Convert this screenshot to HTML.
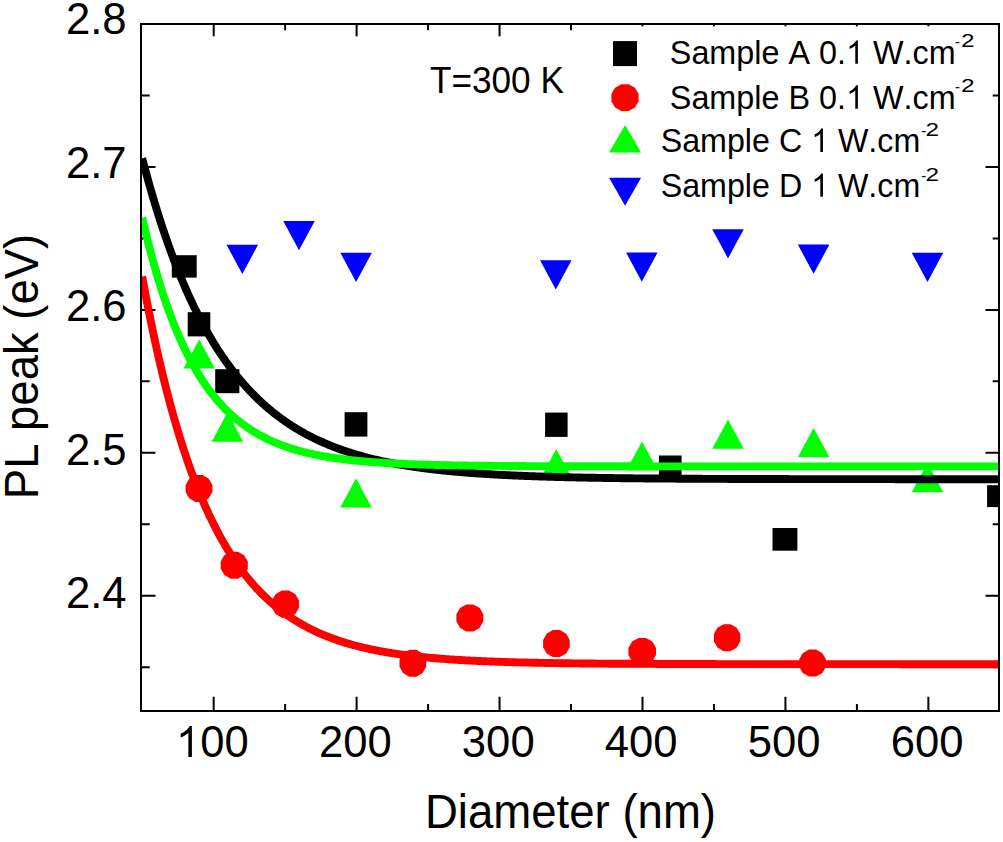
<!DOCTYPE html>
<html><head><meta charset="utf-8"><style>
html,body{margin:0;padding:0;background:#fff;}
body{width:1003px;height:842px;overflow:hidden;font-family:"Liberation Sans",sans-serif;}
svg{display:block;position:absolute;left:0;top:0;}
</style></head><body>
<svg width="1003" height="842" viewBox="0 0 1003 842"><defs><clipPath id="pc"><rect x="142" y="25" width="856" height="685"/></clipPath></defs><path d="M213.67 711V696.70M213.67 24V36.20M285.14 711V704.10M285.14 24V30.30M356.61 711V696.70M356.61 24V36.20M428.08 711V704.10M428.08 24V30.30M499.55 711V696.70M499.55 24V36.20M571.02 711V704.10M571.02 24V30.30M642.49 711V696.70M642.49 24V36.20M713.96 711V704.10M713.96 24V30.30M785.43 711V696.70M785.43 24V36.20M856.90 711V704.10M856.90 24V30.30M928.37 711V696.70M928.37 24V36.20M141 95.51H149.70M999 95.51H992.70M141 166.97H155.50M999 166.97H985.50M141 238.43H149.70M999 238.43H992.70M141 309.89H155.50M999 309.89H985.50M141 381.35H149.70M999 381.35H992.70M141 452.81H155.50M999 452.81H985.50M141 524.27H149.70M999 524.27H992.70M141 595.73H155.50M999 595.73H985.50M141 667.19H149.70M999 667.19H992.70" stroke="#000" stroke-width="2" fill="none"/><g clip-path="url(#pc)"><rect x="171.80" y="255.20" width="24.90" height="22.40" fill="#000"/><rect x="187.70" y="312.20" width="22.60" height="24.20" fill="#000"/><rect x="215.20" y="369.20" width="24.20" height="24.00" fill="#000"/><rect x="344.60" y="412.20" width="22.80" height="24.40" fill="#000"/><rect x="545.10" y="412.60" width="22.50" height="24.30" fill="#000"/><rect x="658.90" y="455.50" width="22.70" height="24.20" fill="#000"/><rect x="772.50" y="528.00" width="24.90" height="22.70" fill="#000"/><rect x="987.10" y="485.20" width="24.90" height="21.90" fill="#000"/><polygon points="212.40,492.09 208.81,498.31 202.59,501.90 195.41,501.90 189.19,498.31 185.60,492.09 185.60,484.91 189.19,478.69 195.41,475.10 202.59,475.10 208.81,478.69 212.40,484.91" fill="#f00"/><polygon points="247.80,568.82 244.17,575.08 237.88,578.70 230.62,578.70 224.33,575.08 220.70,568.82 220.70,561.58 224.33,555.32 230.62,551.70 237.88,551.70 244.17,555.32 247.80,561.58" fill="#f00"/><polygon points="299.00,607.78 295.37,614.07 289.08,617.70 281.82,617.70 275.53,614.07 271.90,607.78 271.90,600.52 275.53,594.23 281.82,590.60 289.08,590.60 295.37,594.23 299.00,600.52" fill="#f00"/><polygon points="426.20,666.85 422.62,673.10 416.43,676.70 409.27,676.70 403.08,673.10 399.50,666.85 399.50,659.65 403.08,653.40 409.27,649.80 416.43,649.80 422.62,653.40 426.20,659.65" fill="#f00"/><polygon points="483.30,621.52 479.70,627.78 473.45,631.40 466.25,631.40 460.00,627.78 456.40,621.52 456.40,614.28 460.00,608.02 466.25,604.40 473.45,604.40 479.70,608.02 483.30,614.28" fill="#f00"/><polygon points="569.70,647.15 566.14,653.40 559.96,657.00 552.84,657.00 546.66,653.40 543.10,647.15 543.10,639.95 546.66,633.70 552.84,630.10 559.96,630.10 566.14,633.70 569.70,639.95" fill="#f00"/><polygon points="656.00,655.12 652.30,661.38 645.90,665.00 638.50,665.00 632.10,661.38 628.40,655.12 628.40,647.88 632.10,641.62 638.50,638.00 645.90,638.00 652.30,641.62 656.00,647.88" fill="#f00"/><polygon points="740.30,641.32 736.76,647.58 730.64,651.20 723.56,651.20 717.44,647.58 713.90,641.32 713.90,634.08 717.44,627.82 723.56,624.20 730.64,624.20 736.76,627.82 740.30,634.08" fill="#f00"/><polygon points="826.00,666.72 822.40,672.98 816.15,676.60 808.95,676.60 802.70,672.98 799.10,666.72 799.10,659.48 802.70,653.22 808.95,649.60 816.15,649.60 822.40,653.22 826.00,659.48" fill="#f00"/><path d="M199.20 339.40L214.95 368.60L183.45 368.60Z" fill="#0f0"/><path d="M227.40 412.50L243.15 441.70L211.65 441.70Z" fill="#0f0"/><path d="M356.00 478.20L371.75 507.40L340.25 507.40Z" fill="#0f0"/><path d="M556.30 449.00L572.05 478.20L540.55 478.20Z" fill="#0f0"/><path d="M642.00 441.40L657.75 470.60L626.25 470.60Z" fill="#0f0"/><path d="M728.00 419.60L743.75 448.80L712.25 448.80Z" fill="#0f0"/><path d="M813.60 427.90L829.35 457.10L797.85 457.10Z" fill="#0f0"/><path d="M927.40 463.10L943.15 492.30L911.65 492.30Z" fill="#0f0"/><path d="M226.55 244.80L258.05 244.80L242.30 274.00Z" fill="#00f"/><path d="M283.25 221.00L314.75 221.00L299.00 250.20Z" fill="#00f"/><path d="M340.35 252.80L371.85 252.80L356.10 282.00Z" fill="#00f"/><path d="M540.05 260.20L571.55 260.20L555.80 289.40Z" fill="#00f"/><path d="M626.05 252.50L657.55 252.50L641.80 281.70Z" fill="#00f"/><path d="M712.25 229.20L743.75 229.20L728.00 258.40Z" fill="#00f"/><path d="M797.85 244.60L829.35 244.60L813.60 273.80Z" fill="#00f"/><path d="M911.75 252.70L943.25 252.70L927.50 281.90Z" fill="#00f"/><path d="M142.20 158.37 L143.00 161.43 L144.00 165.21 L145.00 168.95 L146.00 172.64 L147.00 176.30 L148.00 179.90 L149.00 183.47 L150.00 186.99 L151.00 190.47 L152.00 193.91 L153.00 197.31 L154.00 200.66 L155.00 203.98 L156.00 207.26 L157.00 210.50 L158.00 213.70 L159.00 216.86 L160.00 219.98 L161.00 223.07 L162.00 226.12 L163.00 229.14 L164.00 232.11 L165.00 235.06 L166.00 237.96 L167.00 240.84 L168.00 243.68 L169.00 246.48 L170.00 249.25 L171.00 251.99 L172.00 254.70 L173.00 257.37 L174.00 260.01 L175.00 262.62 L176.00 265.20 L177.00 267.75 L178.00 270.27 L179.00 272.76 L180.00 275.22 L181.00 277.65 L182.00 280.05 L183.00 282.42 L184.00 284.76 L185.00 287.08 L186.00 289.37 L187.00 291.63 L188.00 293.86 L189.00 296.07 L190.00 298.25 L191.00 300.41 L192.00 302.53 L193.00 304.64 L194.00 306.72 L195.00 308.77 L196.00 310.80 L197.00 312.81 L198.00 314.79 L199.00 316.75 L200.00 318.68 L201.00 320.59 L202.00 322.48 L203.00 324.35 L204.00 326.19 L205.00 328.02 L206.00 329.82 L207.00 331.60 L208.00 333.35 L209.00 335.09 L210.00 336.81 L211.00 338.50 L212.00 340.18 L213.00 341.84 L214.00 343.47 L215.00 345.09 L216.00 346.69 L217.00 348.26 L218.00 349.82 L219.00 351.36 L220.00 352.89 L221.00 354.39 L222.00 355.88 L223.00 357.35 L224.00 358.80 L225.00 360.23 L226.00 361.65 L227.00 363.05 L228.00 364.43 L229.00 365.80 L230.00 367.15 L231.00 368.48 L232.00 369.80 L233.00 371.11 L234.00 372.39 L235.00 373.67 L236.00 374.92 L237.00 376.16 L238.00 377.39 L239.00 378.60 L240.00 379.80 L241.00 380.99 L242.00 382.16 L243.00 383.31 L244.00 384.45 L245.00 385.58 L246.00 386.70 L247.00 387.80 L248.00 388.89 L249.00 389.96 L250.00 391.03 L251.00 392.08 L252.00 393.12 L253.00 394.14 L254.00 395.15 L255.00 396.15 L256.00 397.14 L257.00 398.12 L258.00 399.09 L259.00 400.04 L260.00 400.98 L261.00 401.92 L262.00 402.84 L263.00 403.75 L264.00 404.64 L265.00 405.53 L266.00 406.41 L267.00 407.28 L268.00 408.13 L269.00 408.98 L270.00 409.82 L271.00 410.64 L272.00 411.46 L273.00 412.27 L274.00 413.06 L275.00 413.85 L276.00 414.63 L277.00 415.40 L278.00 416.16 L279.00 416.91 L280.00 417.65 L281.00 418.39 L282.00 419.11 L283.00 419.83 L284.00 420.53 L285.00 421.23 L286.00 421.92 L287.00 422.60 L288.00 423.28 L289.00 423.94 L290.00 424.60 L291.00 425.25 L292.00 425.90 L293.00 426.53 L294.00 427.16 L295.00 427.78 L296.00 428.39 L297.00 429.00 L298.00 429.59 L299.00 430.19 L300.00 430.77 L301.00 431.35 L302.00 431.92 L303.00 432.48 L304.00 433.04 L305.00 433.59 L306.00 434.13 L307.00 434.67 L308.00 435.20 L309.00 435.72 L310.00 436.24 L311.00 436.75 L312.00 437.26 L313.00 437.76 L314.00 438.25 L315.00 438.74 L316.00 439.22 L317.00 439.70 L318.00 440.17 L319.00 440.63 L320.00 441.09 L321.00 441.55 L322.00 441.99 L323.00 442.44 L324.00 442.88 L325.00 443.31 L326.00 443.74 L327.00 444.16 L328.00 444.58 L329.00 444.99 L330.00 445.40 L331.00 445.80 L332.00 446.20 L333.00 446.59 L334.00 446.98 L335.00 447.36 L336.00 447.74 L337.00 448.12 L338.00 448.49 L339.00 448.85 L340.00 449.21 L341.00 449.57 L342.00 449.92 L343.00 450.27 L344.00 450.62 L345.00 450.96 L346.00 451.29 L347.00 451.63 L348.00 451.96 L349.00 452.28 L350.00 452.60 L351.00 452.92 L352.00 453.23 L353.00 453.54 L354.00 453.85 L355.00 454.15 L356.00 454.45 L357.00 454.74 L358.00 455.03 L359.00 455.32 L360.00 455.61 L361.00 455.89 L362.00 456.16 L363.00 456.44 L364.00 456.71 L365.00 456.98 L366.00 457.24 L367.00 457.51 L368.00 457.76 L369.00 458.02 L370.00 458.27 L371.00 458.52 L372.00 458.77 L373.00 459.01 L374.00 459.25 L375.00 459.49 L376.00 459.72 L377.00 459.96 L378.00 460.19 L379.00 460.41 L380.00 460.64 L381.00 460.86 L382.00 461.08 L383.00 461.29 L384.00 461.51 L385.00 461.72 L386.00 461.92 L387.00 462.13 L388.00 462.33 L389.00 462.54 L390.00 462.73 L391.00 462.93 L392.00 463.12 L393.00 463.32 L394.00 463.50 L395.00 463.69 L396.00 463.88 L397.00 464.06 L398.00 464.24 L399.00 464.42 L400.00 464.59 L401.00 464.77 L402.00 464.94 L403.00 465.11 L404.00 465.28 L405.00 465.44 L406.00 465.61 L407.00 465.77 L408.00 465.93 L409.00 466.09 L410.00 466.25 L411.00 466.40 L412.00 466.55 L413.00 466.70 L414.00 466.85 L415.00 467.00 L416.00 467.14 L417.00 467.29 L418.00 467.43 L419.00 467.57 L420.00 467.71 L421.00 467.85 L422.00 467.98 L423.00 468.12 L424.00 468.25 L425.00 468.38 L426.00 468.51 L427.00 468.63 L428.00 468.76 L429.00 468.89 L430.00 469.01 L431.00 469.13 L432.00 469.25 L433.00 469.37 L434.00 469.49 L435.00 469.60 L436.00 469.72 L437.00 469.83 L438.00 469.94 L439.00 470.05 L440.00 470.16 L441.00 470.27 L442.00 470.37 L443.00 470.48 L444.00 470.58 L445.00 470.69 L446.00 470.79 L447.00 470.89 L448.00 470.99 L449.00 471.09 L450.00 471.18 L451.00 471.28 L452.00 471.37 L453.00 471.47 L454.00 471.56 L455.00 471.65 L456.00 471.74 L457.00 471.83 L458.00 471.92 L459.00 472.00 L460.00 472.09 L461.00 472.17 L462.00 472.26 L463.00 472.34 L464.00 472.42 L465.00 472.50 L466.00 472.58 L467.00 472.66 L468.00 472.74 L469.00 472.82 L470.00 472.89 L471.00 472.97 L472.00 473.04 L473.00 473.12 L474.00 473.19 L475.00 473.26 L476.00 473.33 L477.00 473.40 L478.00 473.47 L479.00 473.54 L480.00 473.61 L481.00 473.67 L482.00 473.74 L483.00 473.81 L484.00 473.87 L485.00 473.93 L486.00 474.00 L487.00 474.06 L488.00 474.12 L489.00 474.18 L490.00 474.24 L491.00 474.30 L492.00 474.36 L493.00 474.42 L494.00 474.47 L495.00 474.53 L496.00 474.59 L497.00 474.64 L498.00 474.70 L499.00 474.75 L500.00 474.80 L501.00 474.85 L502.00 474.91 L503.00 474.96 L504.00 475.01 L505.00 475.06 L506.00 475.11 L507.00 475.16 L508.00 475.21 L509.00 475.25 L510.00 475.30 L511.00 475.35 L512.00 475.39 L513.00 475.44 L514.00 475.48 L515.00 475.53 L516.00 475.57 L517.00 475.62 L518.00 475.66 L519.00 475.70 L520.00 475.74 L521.00 475.78 L522.00 475.82 L523.00 475.86 L524.00 475.90 L525.00 475.94 L526.00 475.98 L527.00 476.02 L528.00 476.06 L529.00 476.10 L530.00 476.13 L531.00 476.17 L532.00 476.21 L533.00 476.24 L534.00 476.28 L535.00 476.31 L536.00 476.35 L537.00 476.38 L538.00 476.42 L539.00 476.45 L540.00 476.48 L541.00 476.51 L542.00 476.55 L543.00 476.58 L544.00 476.61 L545.00 476.64 L546.00 476.67 L547.00 476.70 L548.00 476.73 L549.00 476.76 L550.00 476.79 L551.00 476.82 L552.00 476.85 L553.00 476.88 L554.00 476.90 L555.00 476.93 L556.00 476.96 L557.00 476.99 L558.00 477.01 L559.00 477.04 L560.00 477.06 L561.00 477.09 L562.00 477.11 L563.00 477.14 L564.00 477.16 L565.00 477.19 L566.00 477.21 L567.00 477.24 L568.00 477.26 L569.00 477.28 L570.00 477.31 L571.00 477.33 L572.00 477.35 L573.00 477.37 L574.00 477.40 L575.00 477.42 L576.00 477.44 L577.00 477.46 L578.00 477.48 L579.00 477.50 L580.00 477.52 L581.00 477.54 L582.00 477.56 L583.00 477.58 L584.00 477.60 L585.00 477.62 L586.00 477.64 L587.00 477.66 L588.00 477.68 L589.00 477.70 L590.00 477.71 L591.00 477.73 L592.00 477.75 L593.00 477.77 L594.00 477.78 L595.00 477.80 L596.00 477.82 L597.00 477.83 L598.00 477.85 L599.00 477.87 L600.00 477.88 L601.00 477.90 L602.00 477.91 L603.00 477.93 L604.00 477.94 L605.00 477.96 L606.00 477.97 L607.00 477.99 L608.00 478.00 L609.00 478.02 L610.00 478.03 L611.00 478.05 L612.00 478.06 L613.00 478.07 L614.00 478.09 L615.00 478.10 L616.00 478.11 L617.00 478.13 L618.00 478.14 L619.00 478.15 L620.00 478.17 L621.00 478.18 L622.00 478.19 L623.00 478.20 L624.00 478.22 L625.00 478.23 L626.00 478.24 L627.00 478.25 L628.00 478.26 L629.00 478.27 L630.00 478.28 L631.00 478.30 L632.00 478.31 L633.00 478.32 L634.00 478.33 L635.00 478.34 L636.00 478.35 L637.00 478.36 L638.00 478.37 L639.00 478.38 L640.00 478.39 L641.00 478.40 L642.00 478.41 L643.00 478.42 L644.00 478.43 L645.00 478.44 L646.00 478.45 L647.00 478.46 L648.00 478.46 L649.00 478.47 L650.00 478.48 L651.00 478.49 L652.00 478.50 L653.00 478.51 L654.00 478.52 L655.00 478.53 L656.00 478.53 L657.00 478.54 L658.00 478.55 L659.00 478.56 L660.00 478.57 L661.00 478.57 L662.00 478.58 L663.00 478.59 L664.00 478.60 L665.00 478.60 L666.00 478.61 L667.00 478.62 L668.00 478.62 L669.00 478.63 L670.00 478.64 L671.00 478.65 L672.00 478.65 L673.00 478.66 L674.00 478.67 L675.00 478.67 L676.00 478.68 L677.00 478.68 L678.00 478.69 L679.00 478.70 L680.00 478.70 L681.00 478.71 L682.00 478.72 L683.00 478.72 L684.00 478.73 L685.00 478.73 L686.00 478.74 L687.00 478.74 L688.00 478.75 L689.00 478.76 L690.00 478.76 L691.00 478.77 L692.00 478.77 L693.00 478.78 L694.00 478.78 L695.00 478.79 L696.00 478.79 L697.00 478.80 L698.00 478.80 L699.00 478.81 L700.00 478.81 L701.00 478.82 L702.00 478.82 L703.00 478.83 L704.00 478.83 L705.00 478.84 L706.00 478.84 L707.00 478.84 L708.00 478.85 L709.00 478.85 L710.00 478.86 L711.00 478.86 L712.00 478.87 L713.00 478.87 L714.00 478.87 L715.00 478.88 L716.00 478.88 L717.00 478.89 L718.00 478.89 L719.00 478.89 L720.00 478.90 L721.00 478.90 L722.00 478.91 L723.00 478.91 L724.00 478.91 L725.00 478.92 L726.00 478.92 L727.00 478.92 L728.00 478.93 L729.00 478.93 L730.00 478.93 L731.00 478.94 L732.00 478.94 L733.00 478.94 L734.00 478.95 L735.00 478.95 L736.00 478.95 L737.00 478.96 L738.00 478.96 L739.00 478.96 L740.00 478.97 L741.00 478.97 L742.00 478.97 L743.00 478.97 L744.00 478.98 L745.00 478.98 L746.00 478.98 L747.00 478.99 L748.00 478.99 L749.00 478.99 L750.00 478.99 L751.00 479.00 L752.00 479.00 L753.00 479.00 L754.00 479.00 L755.00 479.01 L756.00 479.01 L757.00 479.01 L758.00 479.01 L759.00 479.02 L760.00 479.02 L761.00 479.02 L762.00 479.02 L763.00 479.03 L764.00 479.03 L765.00 479.03 L766.00 479.03 L767.00 479.03 L768.00 479.04 L769.00 479.04 L770.00 479.04 L771.00 479.04 L772.00 479.04 L773.00 479.05 L774.00 479.05 L775.00 479.05 L776.00 479.05 L777.00 479.05 L778.00 479.06 L779.00 479.06 L780.00 479.06 L781.00 479.06 L782.00 479.06 L783.00 479.07 L784.00 479.07 L785.00 479.07 L786.00 479.07 L787.00 479.07 L788.00 479.07 L789.00 479.08 L790.00 479.08 L791.00 479.08 L792.00 479.08 L793.00 479.08 L794.00 479.08 L795.00 479.09 L796.00 479.09 L797.00 479.09 L798.00 479.09 L799.00 479.09 L800.00 479.09 L801.00 479.09 L802.00 479.10 L803.00 479.10 L804.00 479.10 L805.00 479.10 L806.00 479.10 L807.00 479.10 L808.00 479.10 L809.00 479.11 L810.00 479.11 L811.00 479.11 L812.00 479.11 L813.00 479.11 L814.00 479.11 L815.00 479.11 L816.00 479.11 L817.00 479.12 L818.00 479.12 L819.00 479.12 L820.00 479.12 L821.00 479.12 L822.00 479.12 L823.00 479.12 L824.00 479.12 L825.00 479.12 L826.00 479.13 L827.00 479.13 L828.00 479.13 L829.00 479.13 L830.00 479.13 L831.00 479.13 L832.00 479.13 L833.00 479.13 L834.00 479.13 L835.00 479.13 L836.00 479.14 L837.00 479.14 L838.00 479.14 L839.00 479.14 L840.00 479.14 L841.00 479.14 L842.00 479.14 L843.00 479.14 L844.00 479.14 L845.00 479.14 L846.00 479.14 L847.00 479.14 L848.00 479.15 L849.00 479.15 L850.00 479.15 L851.00 479.15 L852.00 479.15 L853.00 479.15 L854.00 479.15 L855.00 479.15 L856.00 479.15 L857.00 479.15 L858.00 479.15 L859.00 479.15 L860.00 479.15 L861.00 479.16 L862.00 479.16 L863.00 479.16 L864.00 479.16 L865.00 479.16 L866.00 479.16 L867.00 479.16 L868.00 479.16 L869.00 479.16 L870.00 479.16 L871.00 479.16 L872.00 479.16 L873.00 479.16 L874.00 479.16 L875.00 479.16 L876.00 479.17 L877.00 479.17 L878.00 479.17 L879.00 479.17 L880.00 479.17 L881.00 479.17 L882.00 479.17 L883.00 479.17 L884.00 479.17 L885.00 479.17 L886.00 479.17 L887.00 479.17 L888.00 479.17 L889.00 479.17 L890.00 479.17 L891.00 479.17 L892.00 479.17 L893.00 479.17 L894.00 479.17 L895.00 479.18 L896.00 479.18 L897.00 479.18 L898.00 479.18 L899.00 479.18 L900.00 479.18 L901.00 479.18 L902.00 479.18 L903.00 479.18 L904.00 479.18 L905.00 479.18 L906.00 479.18 L907.00 479.18 L908.00 479.18 L909.00 479.18 L910.00 479.18 L911.00 479.18 L912.00 479.18 L913.00 479.18 L914.00 479.18 L915.00 479.18 L916.00 479.18 L917.00 479.18 L918.00 479.18 L919.00 479.18 L920.00 479.19 L921.00 479.19 L922.00 479.19 L923.00 479.19 L924.00 479.19 L925.00 479.19 L926.00 479.19 L927.00 479.19 L928.00 479.19 L929.00 479.19 L930.00 479.19 L931.00 479.19 L932.00 479.19 L933.00 479.19 L934.00 479.19 L935.00 479.19 L936.00 479.19 L937.00 479.19 L938.00 479.19 L939.00 479.19 L940.00 479.19 L941.00 479.19 L942.00 479.19 L943.00 479.19 L944.00 479.19 L945.00 479.19 L946.00 479.19 L947.00 479.19 L948.00 479.19 L949.00 479.19 L950.00 479.19 L951.00 479.19 L952.00 479.19 L953.00 479.19 L954.00 479.19 L955.00 479.20 L956.00 479.20 L957.00 479.20 L958.00 479.20 L959.00 479.20 L960.00 479.20 L961.00 479.20 L962.00 479.20 L963.00 479.20 L964.00 479.20 L965.00 479.20 L966.00 479.20 L967.00 479.20 L968.00 479.20 L969.00 479.20 L970.00 479.20 L971.00 479.20 L972.00 479.20 L973.00 479.20 L974.00 479.20 L975.00 479.20 L976.00 479.20 L977.00 479.20 L978.00 479.20 L979.00 479.20 L980.00 479.20 L981.00 479.20 L982.00 479.20 L983.00 479.20 L984.00 479.20 L985.00 479.20 L986.00 479.20 L987.00 479.20 L988.00 479.20 L989.00 479.20 L990.00 479.20 L991.00 479.20 L992.00 479.20 L993.00 479.20 L994.00 479.20 L995.00 479.20 L996.00 479.20 L997.00 479.20 L998.00 479.20 L999.00 479.20 L1000.00 479.20 L1001.00 479.20 L1002.00 479.20" fill="none" stroke="#000" stroke-width="7.9" stroke-linejoin="round"/><path d="M142.20 276.50 L143.00 280.89 L144.00 286.32 L145.00 291.67 L146.00 296.94 L147.00 302.14 L148.00 307.26 L149.00 312.31 L150.00 317.29 L151.00 322.20 L152.00 327.04 L153.00 331.81 L154.00 336.52 L155.00 341.15 L156.00 345.72 L157.00 350.23 L158.00 354.67 L159.00 359.06 L160.00 363.37 L161.00 367.63 L162.00 371.83 L163.00 375.97 L164.00 380.04 L165.00 384.07 L166.00 388.03 L167.00 391.94 L168.00 395.79 L169.00 399.59 L170.00 403.33 L171.00 407.03 L172.00 410.67 L173.00 414.25 L174.00 417.79 L175.00 421.28 L176.00 424.72 L177.00 428.10 L178.00 431.45 L179.00 434.74 L180.00 437.99 L181.00 441.19 L182.00 444.34 L183.00 447.46 L184.00 450.52 L185.00 453.55 L186.00 456.53 L187.00 459.47 L188.00 462.36 L189.00 465.22 L190.00 468.04 L191.00 470.81 L192.00 473.55 L193.00 476.25 L194.00 478.91 L195.00 481.53 L196.00 484.11 L197.00 486.66 L198.00 489.17 L199.00 491.65 L200.00 494.09 L201.00 496.50 L202.00 498.87 L203.00 501.21 L204.00 503.52 L205.00 505.79 L206.00 508.04 L207.00 510.24 L208.00 512.42 L209.00 514.57 L210.00 516.69 L211.00 518.78 L212.00 520.83 L213.00 522.86 L214.00 524.86 L215.00 526.83 L216.00 528.78 L217.00 530.69 L218.00 532.58 L219.00 534.45 L220.00 536.28 L221.00 538.09 L222.00 539.88 L223.00 541.64 L224.00 543.37 L225.00 545.08 L226.00 546.77 L227.00 548.43 L228.00 550.07 L229.00 551.68 L230.00 553.27 L231.00 554.84 L232.00 556.39 L233.00 557.92 L234.00 559.42 L235.00 560.90 L236.00 562.36 L237.00 563.81 L238.00 565.23 L239.00 566.63 L240.00 568.01 L241.00 569.37 L242.00 570.71 L243.00 572.03 L244.00 573.34 L245.00 574.62 L246.00 575.89 L247.00 577.14 L248.00 578.37 L249.00 579.59 L250.00 580.78 L251.00 581.96 L252.00 583.13 L253.00 584.27 L254.00 585.41 L255.00 586.52 L256.00 587.62 L257.00 588.70 L258.00 589.77 L259.00 590.82 L260.00 591.86 L261.00 592.89 L262.00 593.90 L263.00 594.89 L264.00 595.87 L265.00 596.84 L266.00 597.79 L267.00 598.73 L268.00 599.66 L269.00 600.57 L270.00 601.47 L271.00 602.36 L272.00 603.23 L273.00 604.10 L274.00 604.95 L275.00 605.78 L276.00 606.61 L277.00 607.43 L278.00 608.23 L279.00 609.02 L280.00 609.80 L281.00 610.57 L282.00 611.33 L283.00 612.08 L284.00 612.82 L285.00 613.54 L286.00 614.26 L287.00 614.97 L288.00 615.66 L289.00 616.35 L290.00 617.03 L291.00 617.69 L292.00 618.35 L293.00 619.00 L294.00 619.64 L295.00 620.27 L296.00 620.89 L297.00 621.50 L298.00 622.11 L299.00 622.70 L300.00 623.29 L301.00 623.87 L302.00 624.44 L303.00 625.00 L304.00 625.56 L305.00 626.10 L306.00 626.64 L307.00 627.17 L308.00 627.70 L309.00 628.21 L310.00 628.72 L311.00 629.22 L312.00 629.72 L313.00 630.21 L314.00 630.69 L315.00 631.16 L316.00 631.63 L317.00 632.09 L318.00 632.54 L319.00 632.99 L320.00 633.43 L321.00 633.87 L322.00 634.30 L323.00 634.72 L324.00 635.14 L325.00 635.55 L326.00 635.95 L327.00 636.35 L328.00 636.75 L329.00 637.14 L330.00 637.52 L331.00 637.90 L332.00 638.27 L333.00 638.63 L334.00 639.00 L335.00 639.35 L336.00 639.70 L337.00 640.05 L338.00 640.39 L339.00 640.73 L340.00 641.06 L341.00 641.39 L342.00 641.71 L343.00 642.03 L344.00 642.34 L345.00 642.65 L346.00 642.96 L347.00 643.26 L348.00 643.55 L349.00 643.84 L350.00 644.13 L351.00 644.42 L352.00 644.70 L353.00 644.97 L354.00 645.24 L355.00 645.51 L356.00 645.78 L357.00 646.04 L358.00 646.29 L359.00 646.55 L360.00 646.80 L361.00 647.04 L362.00 647.28 L363.00 647.52 L364.00 647.76 L365.00 647.99 L366.00 648.22 L367.00 648.45 L368.00 648.67 L369.00 648.89 L370.00 649.11 L371.00 649.32 L372.00 649.53 L373.00 649.74 L374.00 649.94 L375.00 650.14 L376.00 650.34 L377.00 650.54 L378.00 650.73 L379.00 650.92 L380.00 651.11 L381.00 651.29 L382.00 651.48 L383.00 651.66 L384.00 651.83 L385.00 652.01 L386.00 652.18 L387.00 652.35 L388.00 652.52 L389.00 652.68 L390.00 652.85 L391.00 653.01 L392.00 653.16 L393.00 653.32 L394.00 653.47 L395.00 653.63 L396.00 653.77 L397.00 653.92 L398.00 654.07 L399.00 654.21 L400.00 654.35 L401.00 654.49 L402.00 654.63 L403.00 654.76 L404.00 654.90 L405.00 655.03 L406.00 655.16 L407.00 655.29 L408.00 655.41 L409.00 655.54 L410.00 655.66 L411.00 655.78 L412.00 655.90 L413.00 656.01 L414.00 656.13 L415.00 656.24 L416.00 656.36 L417.00 656.47 L418.00 656.58 L419.00 656.68 L420.00 656.79 L421.00 656.89 L422.00 657.00 L423.00 657.10 L424.00 657.20 L425.00 657.30 L426.00 657.40 L427.00 657.49 L428.00 657.59 L429.00 657.68 L430.00 657.77 L431.00 657.86 L432.00 657.95 L433.00 658.04 L434.00 658.13 L435.00 658.21 L436.00 658.30 L437.00 658.38 L438.00 658.46 L439.00 658.54 L440.00 658.62 L441.00 658.70 L442.00 658.78 L443.00 658.86 L444.00 658.93 L445.00 659.01 L446.00 659.08 L447.00 659.15 L448.00 659.22 L449.00 659.29 L450.00 659.36 L451.00 659.43 L452.00 659.50 L453.00 659.56 L454.00 659.63 L455.00 659.69 L456.00 659.76 L457.00 659.82 L458.00 659.88 L459.00 659.94 L460.00 660.00 L461.00 660.06 L462.00 660.12 L463.00 660.18 L464.00 660.23 L465.00 660.29 L466.00 660.35 L467.00 660.40 L468.00 660.45 L469.00 660.51 L470.00 660.56 L471.00 660.61 L472.00 660.66 L473.00 660.71 L474.00 660.76 L475.00 660.81 L476.00 660.86 L477.00 660.90 L478.00 660.95 L479.00 660.99 L480.00 661.04 L481.00 661.08 L482.00 661.13 L483.00 661.17 L484.00 661.21 L485.00 661.26 L486.00 661.30 L487.00 661.34 L488.00 661.38 L489.00 661.42 L490.00 661.46 L491.00 661.50 L492.00 661.53 L493.00 661.57 L494.00 661.61 L495.00 661.64 L496.00 661.68 L497.00 661.72 L498.00 661.75 L499.00 661.79 L500.00 661.82 L501.00 661.85 L502.00 661.89 L503.00 661.92 L504.00 661.95 L505.00 661.98 L506.00 662.01 L507.00 662.04 L508.00 662.07 L509.00 662.10 L510.00 662.13 L511.00 662.16 L512.00 662.19 L513.00 662.22 L514.00 662.25 L515.00 662.27 L516.00 662.30 L517.00 662.33 L518.00 662.35 L519.00 662.38 L520.00 662.41 L521.00 662.43 L522.00 662.46 L523.00 662.48 L524.00 662.50 L525.00 662.53 L526.00 662.55 L527.00 662.57 L528.00 662.60 L529.00 662.62 L530.00 662.64 L531.00 662.66 L532.00 662.69 L533.00 662.71 L534.00 662.73 L535.00 662.75 L536.00 662.77 L537.00 662.79 L538.00 662.81 L539.00 662.83 L540.00 662.85 L541.00 662.87 L542.00 662.88 L543.00 662.90 L544.00 662.92 L545.00 662.94 L546.00 662.96 L547.00 662.97 L548.00 662.99 L549.00 663.01 L550.00 663.02 L551.00 663.04 L552.00 663.06 L553.00 663.07 L554.00 663.09 L555.00 663.10 L556.00 663.12 L557.00 663.13 L558.00 663.15 L559.00 663.16 L560.00 663.18 L561.00 663.19 L562.00 663.21 L563.00 663.22 L564.00 663.23 L565.00 663.25 L566.00 663.26 L567.00 663.27 L568.00 663.29 L569.00 663.30 L570.00 663.31 L571.00 663.32 L572.00 663.34 L573.00 663.35 L574.00 663.36 L575.00 663.37 L576.00 663.38 L577.00 663.39 L578.00 663.41 L579.00 663.42 L580.00 663.43 L581.00 663.44 L582.00 663.45 L583.00 663.46 L584.00 663.47 L585.00 663.48 L586.00 663.49 L587.00 663.50 L588.00 663.51 L589.00 663.52 L590.00 663.53 L591.00 663.54 L592.00 663.55 L593.00 663.56 L594.00 663.56 L595.00 663.57 L596.00 663.58 L597.00 663.59 L598.00 663.60 L599.00 663.61 L600.00 663.61 L601.00 663.62 L602.00 663.63 L603.00 663.64 L604.00 663.65 L605.00 663.65 L606.00 663.66 L607.00 663.67 L608.00 663.68 L609.00 663.68 L610.00 663.69 L611.00 663.70 L612.00 663.70 L613.00 663.71 L614.00 663.72 L615.00 663.72 L616.00 663.73 L617.00 663.74 L618.00 663.74 L619.00 663.75 L620.00 663.76 L621.00 663.76 L622.00 663.77 L623.00 663.77 L624.00 663.78 L625.00 663.79 L626.00 663.79 L627.00 663.80 L628.00 663.80 L629.00 663.81 L630.00 663.81 L631.00 663.82 L632.00 663.82 L633.00 663.83 L634.00 663.83 L635.00 663.84 L636.00 663.84 L637.00 663.85 L638.00 663.85 L639.00 663.86 L640.00 663.86 L641.00 663.87 L642.00 663.87 L643.00 663.88 L644.00 663.88 L645.00 663.88 L646.00 663.89 L647.00 663.89 L648.00 663.90 L649.00 663.90 L650.00 663.90 L651.00 663.91 L652.00 663.91 L653.00 663.92 L654.00 663.92 L655.00 663.92 L656.00 663.93 L657.00 663.93 L658.00 663.93 L659.00 663.94 L660.00 663.94 L661.00 663.94 L662.00 663.95 L663.00 663.95 L664.00 663.95 L665.00 663.96 L666.00 663.96 L667.00 663.96 L668.00 663.97 L669.00 663.97 L670.00 663.97 L671.00 663.98 L672.00 663.98 L673.00 663.98 L674.00 663.99 L675.00 663.99 L676.00 663.99 L677.00 663.99 L678.00 664.00 L679.00 664.00 L680.00 664.00 L681.00 664.00 L682.00 664.01 L683.00 664.01 L684.00 664.01 L685.00 664.01 L686.00 664.02 L687.00 664.02 L688.00 664.02 L689.00 664.02 L690.00 664.03 L691.00 664.03 L692.00 664.03 L693.00 664.03 L694.00 664.03 L695.00 664.04 L696.00 664.04 L697.00 664.04 L698.00 664.04 L699.00 664.04 L700.00 664.05 L701.00 664.05 L702.00 664.05 L703.00 664.05 L704.00 664.05 L705.00 664.06 L706.00 664.06 L707.00 664.06 L708.00 664.06 L709.00 664.06 L710.00 664.06 L711.00 664.07 L712.00 664.07 L713.00 664.07 L714.00 664.07 L715.00 664.07 L716.00 664.07 L717.00 664.08 L718.00 664.08 L719.00 664.08 L720.00 664.08 L721.00 664.08 L722.00 664.08 L723.00 664.08 L724.00 664.09 L725.00 664.09 L726.00 664.09 L727.00 664.09 L728.00 664.09 L729.00 664.09 L730.00 664.09 L731.00 664.10 L732.00 664.10 L733.00 664.10 L734.00 664.10 L735.00 664.10 L736.00 664.10 L737.00 664.10 L738.00 664.10 L739.00 664.10 L740.00 664.11 L741.00 664.11 L742.00 664.11 L743.00 664.11 L744.00 664.11 L745.00 664.11 L746.00 664.11 L747.00 664.11 L748.00 664.11 L749.00 664.12 L750.00 664.12 L751.00 664.12 L752.00 664.12 L753.00 664.12 L754.00 664.12 L755.00 664.12 L756.00 664.12 L757.00 664.12 L758.00 664.12 L759.00 664.12 L760.00 664.12 L761.00 664.13 L762.00 664.13 L763.00 664.13 L764.00 664.13 L765.00 664.13 L766.00 664.13 L767.00 664.13 L768.00 664.13 L769.00 664.13 L770.00 664.13 L771.00 664.13 L772.00 664.13 L773.00 664.13 L774.00 664.14 L775.00 664.14 L776.00 664.14 L777.00 664.14 L778.00 664.14 L779.00 664.14 L780.00 664.14 L781.00 664.14 L782.00 664.14 L783.00 664.14 L784.00 664.14 L785.00 664.14 L786.00 664.14 L787.00 664.14 L788.00 664.14 L789.00 664.14 L790.00 664.15 L791.00 664.15 L792.00 664.15 L793.00 664.15 L794.00 664.15 L795.00 664.15 L796.00 664.15 L797.00 664.15 L798.00 664.15 L799.00 664.15 L800.00 664.15 L801.00 664.15 L802.00 664.15 L803.00 664.15 L804.00 664.15 L805.00 664.15 L806.00 664.15 L807.00 664.15 L808.00 664.15 L809.00 664.15 L810.00 664.15 L811.00 664.15 L812.00 664.16 L813.00 664.16 L814.00 664.16 L815.00 664.16 L816.00 664.16 L817.00 664.16 L818.00 664.16 L819.00 664.16 L820.00 664.16 L821.00 664.16 L822.00 664.16 L823.00 664.16 L824.00 664.16 L825.00 664.16 L826.00 664.16 L827.00 664.16 L828.00 664.16 L829.00 664.16 L830.00 664.16 L831.00 664.16 L832.00 664.16 L833.00 664.16 L834.00 664.16 L835.00 664.16 L836.00 664.16 L837.00 664.16 L838.00 664.16 L839.00 664.16 L840.00 664.16 L841.00 664.16 L842.00 664.16 L843.00 664.17 L844.00 664.17 L845.00 664.17 L846.00 664.17 L847.00 664.17 L848.00 664.17 L849.00 664.17 L850.00 664.17 L851.00 664.17 L852.00 664.17 L853.00 664.17 L854.00 664.17 L855.00 664.17 L856.00 664.17 L857.00 664.17 L858.00 664.17 L859.00 664.17 L860.00 664.17 L861.00 664.17 L862.00 664.17 L863.00 664.17 L864.00 664.17 L865.00 664.17 L866.00 664.17 L867.00 664.17 L868.00 664.17 L869.00 664.17 L870.00 664.17 L871.00 664.17 L872.00 664.17 L873.00 664.17 L874.00 664.17 L875.00 664.17 L876.00 664.17 L877.00 664.17 L878.00 664.17 L879.00 664.17 L880.00 664.17 L881.00 664.17 L882.00 664.17 L883.00 664.17 L884.00 664.17 L885.00 664.17 L886.00 664.17 L887.00 664.17 L888.00 664.17 L889.00 664.17 L890.00 664.17 L891.00 664.17 L892.00 664.17 L893.00 664.17 L894.00 664.17 L895.00 664.17 L896.00 664.17 L897.00 664.17 L898.00 664.17 L899.00 664.17 L900.00 664.18 L901.00 664.18 L902.00 664.18 L903.00 664.18 L904.00 664.18 L905.00 664.18 L906.00 664.18 L907.00 664.18 L908.00 664.18 L909.00 664.18 L910.00 664.18 L911.00 664.18 L912.00 664.18 L913.00 664.18 L914.00 664.18 L915.00 664.18 L916.00 664.18 L917.00 664.18 L918.00 664.18 L919.00 664.18 L920.00 664.18 L921.00 664.18 L922.00 664.18 L923.00 664.18 L924.00 664.18 L925.00 664.18 L926.00 664.18 L927.00 664.18 L928.00 664.18 L929.00 664.18 L930.00 664.18 L931.00 664.18 L932.00 664.18 L933.00 664.18 L934.00 664.18 L935.00 664.18 L936.00 664.18 L937.00 664.18 L938.00 664.18 L939.00 664.18 L940.00 664.18 L941.00 664.18 L942.00 664.18 L943.00 664.18 L944.00 664.18 L945.00 664.18 L946.00 664.18 L947.00 664.18 L948.00 664.18 L949.00 664.18 L950.00 664.18 L951.00 664.18 L952.00 664.18 L953.00 664.18 L954.00 664.18 L955.00 664.18 L956.00 664.18 L957.00 664.18 L958.00 664.18 L959.00 664.18 L960.00 664.18 L961.00 664.18 L962.00 664.18 L963.00 664.18 L964.00 664.18 L965.00 664.18 L966.00 664.18 L967.00 664.18 L968.00 664.18 L969.00 664.18 L970.00 664.18 L971.00 664.18 L972.00 664.18 L973.00 664.18 L974.00 664.18 L975.00 664.18 L976.00 664.18 L977.00 664.18 L978.00 664.18 L979.00 664.18 L980.00 664.18 L981.00 664.18 L982.00 664.18 L983.00 664.18 L984.00 664.18 L985.00 664.18 L986.00 664.18 L987.00 664.18 L988.00 664.18 L989.00 664.18 L990.00 664.18 L991.00 664.18 L992.00 664.18 L993.00 664.18 L994.00 664.18 L995.00 664.18 L996.00 664.18 L997.00 664.18 L998.00 664.18 L999.00 664.18 L1000.00 664.18 L1001.00 664.18 L1002.00 664.18" fill="none" stroke="#f00" stroke-width="7.9" stroke-linejoin="round"/><path d="M142.20 217.58 L143.00 221.06 L144.00 225.36 L145.00 229.57 L146.00 233.71 L147.00 237.78 L148.00 241.78 L149.00 245.71 L150.00 249.57 L151.00 253.36 L152.00 257.09 L153.00 260.75 L154.00 264.35 L155.00 267.88 L156.00 271.35 L157.00 274.77 L158.00 278.12 L159.00 281.41 L160.00 284.65 L161.00 287.83 L162.00 290.95 L163.00 294.02 L164.00 297.03 L165.00 299.99 L166.00 302.90 L167.00 305.76 L168.00 308.57 L169.00 311.33 L170.00 314.05 L171.00 316.71 L172.00 319.33 L173.00 321.90 L174.00 324.43 L175.00 326.91 L176.00 329.35 L177.00 331.75 L178.00 334.10 L179.00 336.42 L180.00 338.69 L181.00 340.92 L182.00 343.12 L183.00 345.27 L184.00 347.39 L185.00 349.47 L186.00 351.52 L187.00 353.53 L188.00 355.50 L189.00 357.44 L190.00 359.35 L191.00 361.22 L192.00 363.06 L193.00 364.86 L194.00 366.64 L195.00 368.38 L196.00 370.10 L197.00 371.78 L198.00 373.44 L199.00 375.06 L200.00 376.66 L201.00 378.23 L202.00 379.77 L203.00 381.29 L204.00 382.77 L205.00 384.24 L206.00 385.67 L207.00 387.08 L208.00 388.47 L209.00 389.83 L210.00 391.17 L211.00 392.49 L212.00 393.78 L213.00 395.05 L214.00 396.30 L215.00 397.52 L216.00 398.73 L217.00 399.91 L218.00 401.07 L219.00 402.22 L220.00 403.34 L221.00 404.44 L222.00 405.52 L223.00 406.59 L224.00 407.63 L225.00 408.66 L226.00 409.67 L227.00 410.66 L228.00 411.64 L229.00 412.59 L230.00 413.53 L231.00 414.46 L232.00 415.37 L233.00 416.26 L234.00 417.14 L235.00 418.00 L236.00 418.84 L237.00 419.67 L238.00 420.49 L239.00 421.29 L240.00 422.08 L241.00 422.86 L242.00 423.62 L243.00 424.37 L244.00 425.10 L245.00 425.82 L246.00 426.53 L247.00 427.23 L248.00 427.91 L249.00 428.59 L250.00 429.25 L251.00 429.90 L252.00 430.53 L253.00 431.16 L254.00 431.78 L255.00 432.38 L256.00 432.98 L257.00 433.56 L258.00 434.13 L259.00 434.70 L260.00 435.25 L261.00 435.80 L262.00 436.33 L263.00 436.86 L264.00 437.37 L265.00 437.88 L266.00 438.38 L267.00 438.87 L268.00 439.35 L269.00 439.82 L270.00 440.28 L271.00 440.74 L272.00 441.19 L273.00 441.63 L274.00 442.06 L275.00 442.49 L276.00 442.90 L277.00 443.32 L278.00 443.72 L279.00 444.11 L280.00 444.50 L281.00 444.89 L282.00 445.26 L283.00 445.63 L284.00 445.99 L285.00 446.35 L286.00 446.70 L287.00 447.04 L288.00 447.38 L289.00 447.71 L290.00 448.04 L291.00 448.36 L292.00 448.68 L293.00 448.98 L294.00 449.29 L295.00 449.59 L296.00 449.88 L297.00 450.17 L298.00 450.45 L299.00 450.73 L300.00 451.00 L301.00 451.27 L302.00 451.54 L303.00 451.80 L304.00 452.05 L305.00 452.30 L306.00 452.55 L307.00 452.79 L308.00 453.03 L309.00 453.26 L310.00 453.49 L311.00 453.71 L312.00 453.94 L313.00 454.15 L314.00 454.37 L315.00 454.58 L316.00 454.78 L317.00 454.99 L318.00 455.18 L319.00 455.38 L320.00 455.57 L321.00 455.76 L322.00 455.95 L323.00 456.13 L324.00 456.31 L325.00 456.48 L326.00 456.66 L327.00 456.83 L328.00 456.99 L329.00 457.16 L330.00 457.32 L331.00 457.48 L332.00 457.63 L333.00 457.78 L334.00 457.93 L335.00 458.08 L336.00 458.23 L337.00 458.37 L338.00 458.51 L339.00 458.65 L340.00 458.78 L341.00 458.91 L342.00 459.04 L343.00 459.17 L344.00 459.30 L345.00 459.42 L346.00 459.54 L347.00 459.66 L348.00 459.78 L349.00 459.89 L350.00 460.01 L351.00 460.12 L352.00 460.23 L353.00 460.34 L354.00 460.44 L355.00 460.54 L356.00 460.65 L357.00 460.75 L358.00 460.84 L359.00 460.94 L360.00 461.04 L361.00 461.13 L362.00 461.22 L363.00 461.31 L364.00 461.40 L365.00 461.49 L366.00 461.57 L367.00 461.65 L368.00 461.74 L369.00 461.82 L370.00 461.90 L371.00 461.98 L372.00 462.05 L373.00 462.13 L374.00 462.20 L375.00 462.27 L376.00 462.35 L377.00 462.42 L378.00 462.49 L379.00 462.55 L380.00 462.62 L381.00 462.69 L382.00 462.75 L383.00 462.81 L384.00 462.87 L385.00 462.94 L386.00 463.00 L387.00 463.05 L388.00 463.11 L389.00 463.17 L390.00 463.23 L391.00 463.28 L392.00 463.33 L393.00 463.39 L394.00 463.44 L395.00 463.49 L396.00 463.54 L397.00 463.59 L398.00 463.64 L399.00 463.69 L400.00 463.73 L401.00 463.78 L402.00 463.82 L403.00 463.87 L404.00 463.91 L405.00 463.95 L406.00 464.00 L407.00 464.04 L408.00 464.08 L409.00 464.12 L410.00 464.16 L411.00 464.20 L412.00 464.23 L413.00 464.27 L414.00 464.31 L415.00 464.34 L416.00 464.38 L417.00 464.41 L418.00 464.45 L419.00 464.48 L420.00 464.51 L421.00 464.55 L422.00 464.58 L423.00 464.61 L424.00 464.64 L425.00 464.67 L426.00 464.70 L427.00 464.73 L428.00 464.76 L429.00 464.79 L430.00 464.81 L431.00 464.84 L432.00 464.87 L433.00 464.89 L434.00 464.92 L435.00 464.94 L436.00 464.97 L437.00 464.99 L438.00 465.02 L439.00 465.04 L440.00 465.06 L441.00 465.09 L442.00 465.11 L443.00 465.13 L444.00 465.15 L445.00 465.17 L446.00 465.19 L447.00 465.21 L448.00 465.23 L449.00 465.25 L450.00 465.27 L451.00 465.29 L452.00 465.31 L453.00 465.33 L454.00 465.35 L455.00 465.37 L456.00 465.38 L457.00 465.40 L458.00 465.42 L459.00 465.43 L460.00 465.45 L461.00 465.47 L462.00 465.48 L463.00 465.50 L464.00 465.51 L465.00 465.53 L466.00 465.54 L467.00 465.56 L468.00 465.57 L469.00 465.58 L470.00 465.60 L471.00 465.61 L472.00 465.62 L473.00 465.64 L474.00 465.65 L475.00 465.66 L476.00 465.67 L477.00 465.69 L478.00 465.70 L479.00 465.71 L480.00 465.72 L481.00 465.73 L482.00 465.74 L483.00 465.75 L484.00 465.76 L485.00 465.78 L486.00 465.79 L487.00 465.80 L488.00 465.81 L489.00 465.82 L490.00 465.82 L491.00 465.83 L492.00 465.84 L493.00 465.85 L494.00 465.86 L495.00 465.87 L496.00 465.88 L497.00 465.89 L498.00 465.90 L499.00 465.90 L500.00 465.91 L501.00 465.92 L502.00 465.93 L503.00 465.94 L504.00 465.94 L505.00 465.95 L506.00 465.96 L507.00 465.96 L508.00 465.97 L509.00 465.98 L510.00 465.98 L511.00 465.99 L512.00 466.00 L513.00 466.00 L514.00 466.01 L515.00 466.02 L516.00 466.02 L517.00 466.03 L518.00 466.03 L519.00 466.04 L520.00 466.05 L521.00 466.05 L522.00 466.06 L523.00 466.06 L524.00 466.07 L525.00 466.07 L526.00 466.08 L527.00 466.08 L528.00 466.09 L529.00 466.09 L530.00 466.10 L531.00 466.10 L532.00 466.11 L533.00 466.11 L534.00 466.11 L535.00 466.12 L536.00 466.12 L537.00 466.13 L538.00 466.13 L539.00 466.14 L540.00 466.14 L541.00 466.14 L542.00 466.15 L543.00 466.15 L544.00 466.15 L545.00 466.16 L546.00 466.16 L547.00 466.17 L548.00 466.17 L549.00 466.17 L550.00 466.18 L551.00 466.18 L552.00 466.18 L553.00 466.19 L554.00 466.19 L555.00 466.19 L556.00 466.19 L557.00 466.20 L558.00 466.20 L559.00 466.20 L560.00 466.21 L561.00 466.21 L562.00 466.21 L563.00 466.21 L564.00 466.22 L565.00 466.22 L566.00 466.22 L567.00 466.22 L568.00 466.23 L569.00 466.23 L570.00 466.23 L571.00 466.23 L572.00 466.24 L573.00 466.24 L574.00 466.24 L575.00 466.24 L576.00 466.24 L577.00 466.25 L578.00 466.25 L579.00 466.25 L580.00 466.25 L581.00 466.25 L582.00 466.26 L583.00 466.26 L584.00 466.26 L585.00 466.26 L586.00 466.26 L587.00 466.27 L588.00 466.27 L589.00 466.27 L590.00 466.27 L591.00 466.27 L592.00 466.27 L593.00 466.27 L594.00 466.28 L595.00 466.28 L596.00 466.28 L597.00 466.28 L598.00 466.28 L599.00 466.28 L600.00 466.28 L601.00 466.29 L602.00 466.29 L603.00 466.29 L604.00 466.29 L605.00 466.29 L606.00 466.29 L607.00 466.29 L608.00 466.30 L609.00 466.30 L610.00 466.30 L611.00 466.30 L612.00 466.30 L613.00 466.30 L614.00 466.30 L615.00 466.30 L616.00 466.30 L617.00 466.30 L618.00 466.31 L619.00 466.31 L620.00 466.31 L621.00 466.31 L622.00 466.31 L623.00 466.31 L624.00 466.31 L625.00 466.31 L626.00 466.31 L627.00 466.31 L628.00 466.31 L629.00 466.32 L630.00 466.32 L631.00 466.32 L632.00 466.32 L633.00 466.32 L634.00 466.32 L635.00 466.32 L636.00 466.32 L637.00 466.32 L638.00 466.32 L639.00 466.32 L640.00 466.32 L641.00 466.32 L642.00 466.33 L643.00 466.33 L644.00 466.33 L645.00 466.33 L646.00 466.33 L647.00 466.33 L648.00 466.33 L649.00 466.33 L650.00 466.33 L651.00 466.33 L652.00 466.33 L653.00 466.33 L654.00 466.33 L655.00 466.33 L656.00 466.33 L657.00 466.33 L658.00 466.33 L659.00 466.33 L660.00 466.34 L661.00 466.34 L662.00 466.34 L663.00 466.34 L664.00 466.34 L665.00 466.34 L666.00 466.34 L667.00 466.34 L668.00 466.34 L669.00 466.34 L670.00 466.34 L671.00 466.34 L672.00 466.34 L673.00 466.34 L674.00 466.34 L675.00 466.34 L676.00 466.34 L677.00 466.34 L678.00 466.34 L679.00 466.34 L680.00 466.34 L681.00 466.34 L682.00 466.34 L683.00 466.34 L684.00 466.34 L685.00 466.34 L686.00 466.35 L687.00 466.35 L688.00 466.35 L689.00 466.35 L690.00 466.35 L691.00 466.35 L692.00 466.35 L693.00 466.35 L694.00 466.35 L695.00 466.35 L696.00 466.35 L697.00 466.35 L698.00 466.35 L699.00 466.35 L700.00 466.35 L701.00 466.35 L702.00 466.35 L703.00 466.35 L704.00 466.35 L705.00 466.35 L706.00 466.35 L707.00 466.35 L708.00 466.35 L709.00 466.35 L710.00 466.35 L711.00 466.35 L712.00 466.35 L713.00 466.35 L714.00 466.35 L715.00 466.35 L716.00 466.35 L717.00 466.35 L718.00 466.35 L719.00 466.35 L720.00 466.35 L721.00 466.35 L722.00 466.35 L723.00 466.35 L724.00 466.35 L725.00 466.35 L726.00 466.35 L727.00 466.35 L728.00 466.35 L729.00 466.35 L730.00 466.35 L731.00 466.35 L732.00 466.35 L733.00 466.35 L734.00 466.35 L735.00 466.35 L736.00 466.36 L737.00 466.36 L738.00 466.36 L739.00 466.36 L740.00 466.36 L741.00 466.36 L742.00 466.36 L743.00 466.36 L744.00 466.36 L745.00 466.36 L746.00 466.36 L747.00 466.36 L748.00 466.36 L749.00 466.36 L750.00 466.36 L751.00 466.36 L752.00 466.36 L753.00 466.36 L754.00 466.36 L755.00 466.36 L756.00 466.36 L757.00 466.36 L758.00 466.36 L759.00 466.36 L760.00 466.36 L761.00 466.36 L762.00 466.36 L763.00 466.36 L764.00 466.36 L765.00 466.36 L766.00 466.36 L767.00 466.36 L768.00 466.36 L769.00 466.36 L770.00 466.36 L771.00 466.36 L772.00 466.36 L773.00 466.36 L774.00 466.36 L775.00 466.36 L776.00 466.36 L777.00 466.36 L778.00 466.36 L779.00 466.36 L780.00 466.36 L781.00 466.36 L782.00 466.36 L783.00 466.36 L784.00 466.36 L785.00 466.36 L786.00 466.36 L787.00 466.36 L788.00 466.36 L789.00 466.36 L790.00 466.36 L791.00 466.36 L792.00 466.36 L793.00 466.36 L794.00 466.36 L795.00 466.36 L796.00 466.36 L797.00 466.36 L798.00 466.36 L799.00 466.36 L800.00 466.36 L801.00 466.36 L802.00 466.36 L803.00 466.36 L804.00 466.36 L805.00 466.36 L806.00 466.36 L807.00 466.36 L808.00 466.36 L809.00 466.36 L810.00 466.36 L811.00 466.36 L812.00 466.36 L813.00 466.36 L814.00 466.36 L815.00 466.36 L816.00 466.36 L817.00 466.36 L818.00 466.36 L819.00 466.36 L820.00 466.36 L821.00 466.36 L822.00 466.36 L823.00 466.36 L824.00 466.36 L825.00 466.36 L826.00 466.36 L827.00 466.36 L828.00 466.36 L829.00 466.36 L830.00 466.36 L831.00 466.36 L832.00 466.36 L833.00 466.36 L834.00 466.36 L835.00 466.36 L836.00 466.36 L837.00 466.36 L838.00 466.36 L839.00 466.36 L840.00 466.36 L841.00 466.36 L842.00 466.36 L843.00 466.36 L844.00 466.36 L845.00 466.36 L846.00 466.36 L847.00 466.36 L848.00 466.36 L849.00 466.36 L850.00 466.36 L851.00 466.36 L852.00 466.36 L853.00 466.36 L854.00 466.36 L855.00 466.36 L856.00 466.36 L857.00 466.36 L858.00 466.36 L859.00 466.36 L860.00 466.36 L861.00 466.36 L862.00 466.36 L863.00 466.36 L864.00 466.36 L865.00 466.36 L866.00 466.36 L867.00 466.36 L868.00 466.36 L869.00 466.36 L870.00 466.36 L871.00 466.36 L872.00 466.36 L873.00 466.36 L874.00 466.36 L875.00 466.36 L876.00 466.36 L877.00 466.36 L878.00 466.36 L879.00 466.36 L880.00 466.36 L881.00 466.36 L882.00 466.36 L883.00 466.36 L884.00 466.36 L885.00 466.36 L886.00 466.36 L887.00 466.36 L888.00 466.36 L889.00 466.36 L890.00 466.36 L891.00 466.36 L892.00 466.36 L893.00 466.36 L894.00 466.36 L895.00 466.36 L896.00 466.36 L897.00 466.36 L898.00 466.36 L899.00 466.36 L900.00 466.36 L901.00 466.36 L902.00 466.36 L903.00 466.36 L904.00 466.36 L905.00 466.36 L906.00 466.36 L907.00 466.36 L908.00 466.36 L909.00 466.36 L910.00 466.36 L911.00 466.36 L912.00 466.36 L913.00 466.36 L914.00 466.36 L915.00 466.36 L916.00 466.36 L917.00 466.36 L918.00 466.36 L919.00 466.36 L920.00 466.36 L921.00 466.36 L922.00 466.36 L923.00 466.36 L924.00 466.36 L925.00 466.36 L926.00 466.36 L927.00 466.36 L928.00 466.36 L929.00 466.36 L930.00 466.36 L931.00 466.36 L932.00 466.36 L933.00 466.36 L934.00 466.36 L935.00 466.36 L936.00 466.36 L937.00 466.36 L938.00 466.36 L939.00 466.36 L940.00 466.36 L941.00 466.36 L942.00 466.36 L943.00 466.36 L944.00 466.36 L945.00 466.36 L946.00 466.36 L947.00 466.36 L948.00 466.36 L949.00 466.36 L950.00 466.36 L951.00 466.36 L952.00 466.36 L953.00 466.36 L954.00 466.36 L955.00 466.36 L956.00 466.36 L957.00 466.36 L958.00 466.36 L959.00 466.36 L960.00 466.36 L961.00 466.36 L962.00 466.36 L963.00 466.36 L964.00 466.36 L965.00 466.36 L966.00 466.36 L967.00 466.36 L968.00 466.36 L969.00 466.36 L970.00 466.36 L971.00 466.36 L972.00 466.36 L973.00 466.36 L974.00 466.36 L975.00 466.36 L976.00 466.36 L977.00 466.36 L978.00 466.36 L979.00 466.36 L980.00 466.36 L981.00 466.36 L982.00 466.36 L983.00 466.36 L984.00 466.36 L985.00 466.36 L986.00 466.36 L987.00 466.36 L988.00 466.36 L989.00 466.36 L990.00 466.36 L991.00 466.36 L992.00 466.36 L993.00 466.36 L994.00 466.36 L995.00 466.36 L996.00 466.36 L997.00 466.36 L998.00 466.36 L999.00 466.36 L1000.00 466.36 L1001.00 466.36 L1002.00 466.36" fill="none" stroke="#0f0" stroke-width="7.9" stroke-linejoin="round"/></g><rect x="141" y="24" width="858" height="687" fill="none" stroke="#000" stroke-width="2"/><rect x="595" y="26.3" width="385" height="189" fill="#fff"/><g transform="translate(126.60,34.30) scale(0.9700,1)"><text x="-62.56" y="0" font-family="Liberation Sans, sans-serif" font-size="45" style="font-kerning:none" fill="#000" xml:space="preserve">2.8</text></g><g transform="translate(126.60,177.80) scale(0.9700,1)"><text x="-62.56" y="0" font-family="Liberation Sans, sans-serif" font-size="45" style="font-kerning:none" fill="#000" xml:space="preserve">2.7</text></g><g transform="translate(126.60,321.10) scale(0.9700,1)"><text x="-62.56" y="0" font-family="Liberation Sans, sans-serif" font-size="45" style="font-kerning:none" fill="#000" xml:space="preserve">2.6</text></g><g transform="translate(126.60,464.50) scale(0.9700,1)"><text x="-62.56" y="0" font-family="Liberation Sans, sans-serif" font-size="45" style="font-kerning:none" fill="#000" xml:space="preserve">2.5</text></g><g transform="translate(126.60,607.90) scale(0.9700,1)"><text x="-62.56" y="0" font-family="Liberation Sans, sans-serif" font-size="45" style="font-kerning:none" fill="#000" xml:space="preserve">2.4</text></g><g transform="translate(212.37,757.00) scale(0.9700,1)"><text x="-37.54" y="0" font-family="Liberation Sans, sans-serif" font-size="45" style="font-kerning:none" fill="#000" xml:space="preserve"> 00</text><path transform="translate(-37.54,0) scale(0.02197,-0.02197)" d="M748 0H583V1098Q518 1038 412 979Q306 920 222 890V1057Q373 1124 486 1221Q599 1318 646 1409H748Z" fill="#000"/></g><g transform="translate(355.31,757.00) scale(0.9700,1)"><text x="-37.54" y="0" font-family="Liberation Sans, sans-serif" font-size="45" style="font-kerning:none" fill="#000" xml:space="preserve">200</text></g><g transform="translate(498.25,757.00) scale(0.9700,1)"><text x="-37.54" y="0" font-family="Liberation Sans, sans-serif" font-size="45" style="font-kerning:none" fill="#000" xml:space="preserve">300</text></g><g transform="translate(641.19,757.00) scale(0.9700,1)"><text x="-37.54" y="0" font-family="Liberation Sans, sans-serif" font-size="45" style="font-kerning:none" fill="#000" xml:space="preserve">400</text></g><g transform="translate(784.13,757.00) scale(0.9700,1)"><text x="-37.54" y="0" font-family="Liberation Sans, sans-serif" font-size="45" style="font-kerning:none" fill="#000" xml:space="preserve">500</text></g><g transform="translate(927.07,757.00) scale(0.9700,1)"><text x="-37.54" y="0" font-family="Liberation Sans, sans-serif" font-size="45" style="font-kerning:none" fill="#000" xml:space="preserve">600</text></g><g transform="translate(424.96,827.80) scale(0.9593,1)"><text x="0.00" y="0" font-family="Liberation Sans, sans-serif" font-size="47.5" style="font-kerning:none" fill="#000" xml:space="preserve">Diameter (nm)</text></g><g transform="translate(37.9,0) rotate(-90)"><g transform="translate(-499.13,0.00) scale(0.9472,1)"><text x="0.00" y="0" font-family="Liberation Sans, sans-serif" font-size="48" style="font-kerning:none" fill="#000" xml:space="preserve">PL peak (eV)</text></g></g><g transform="translate(429.93,93.30) scale(0.9510,1)"><text x="0.00" y="0" font-family="Liberation Sans, sans-serif" font-size="37" style="font-kerning:none" fill="#000" xml:space="preserve">T=300 K</text></g><g transform="translate(669.81,63.80) scale(0.9517,1)"><text x="0.00" y="0" font-family="Liberation Sans, sans-serif" font-size="34" style="font-kerning:none" fill="#000" xml:space="preserve">Sample A 0.  W.cm</text><path transform="translate(185.21,0) scale(0.01660,-0.01660)" d="M748 0H583V1098Q518 1038 412 979Q306 920 222 890V1057Q373 1124 486 1221Q599 1318 646 1409H748Z" fill="#000"/></g><g transform="translate(669.81,108.70) scale(0.9517,1)"><text x="0.00" y="0" font-family="Liberation Sans, sans-serif" font-size="34" style="font-kerning:none" fill="#000" xml:space="preserve">Sample B 0.  W.cm</text><path transform="translate(185.21,0) scale(0.01660,-0.01660)" d="M748 0H583V1098Q518 1038 412 979Q306 920 222 890V1057Q373 1124 486 1221Q599 1318 646 1409H748Z" fill="#000"/></g><g transform="translate(660.72,151.90) scale(0.9477,1)"><text x="0.00" y="0" font-family="Liberation Sans, sans-serif" font-size="34" style="font-kerning:none" fill="#000" xml:space="preserve">Sample C   W.cm</text><path transform="translate(158.73,0) scale(0.01660,-0.01660)" d="M748 0H583V1098Q518 1038 412 979Q306 920 222 890V1057Q373 1124 486 1221Q599 1318 646 1409H748Z" fill="#000"/></g><g transform="translate(660.72,196.80) scale(0.9477,1)"><text x="0.00" y="0" font-family="Liberation Sans, sans-serif" font-size="34" style="font-kerning:none" fill="#000" xml:space="preserve">Sample D   W.cm</text><path transform="translate(158.73,0) scale(0.01660,-0.01660)" d="M748 0H583V1098Q518 1038 412 979Q306 920 222 890V1057Q373 1124 486 1221Q599 1318 646 1409H748Z" fill="#000"/></g><g transform="translate(954.95,47.30) scale(0.8643,1)"><text x="0.00" y="0" font-family="Liberation Sans, sans-serif" font-size="17" style="font-kerning:none" fill="#000" xml:space="preserve">-</text></g><g transform="translate(960.98,47.30) scale(1.3910,1)"><text x="0.00" y="0" font-family="Liberation Sans, sans-serif" font-size="17.5" style="font-kerning:none" fill="#000" xml:space="preserve">2</text></g><g transform="translate(954.95,92.20) scale(0.8643,1)"><text x="0.00" y="0" font-family="Liberation Sans, sans-serif" font-size="17" style="font-kerning:none" fill="#000" xml:space="preserve">-</text></g><g transform="translate(960.98,92.20) scale(1.3910,1)"><text x="0.00" y="0" font-family="Liberation Sans, sans-serif" font-size="17.5" style="font-kerning:none" fill="#000" xml:space="preserve">2</text></g><g transform="translate(921.35,135.60) scale(0.8643,1)"><text x="0.00" y="0" font-family="Liberation Sans, sans-serif" font-size="17" style="font-kerning:none" fill="#000" xml:space="preserve">-</text></g><g transform="translate(925.48,135.60) scale(1.3910,1)"><text x="0.00" y="0" font-family="Liberation Sans, sans-serif" font-size="17.5" style="font-kerning:none" fill="#000" xml:space="preserve">2</text></g><g transform="translate(921.35,180.50) scale(0.8643,1)"><text x="0.00" y="0" font-family="Liberation Sans, sans-serif" font-size="17" style="font-kerning:none" fill="#000" xml:space="preserve">-</text></g><g transform="translate(925.48,180.50) scale(1.3910,1)"><text x="0.00" y="0" font-family="Liberation Sans, sans-serif" font-size="17.5" style="font-kerning:none" fill="#000" xml:space="preserve">2</text></g><rect x="613.00" y="41.10" width="24" height="25" fill="#000"/><polygon points="638.60,101.19 634.96,107.41 628.64,111.00 621.36,111.00 615.04,107.41 611.40,101.19 611.40,94.01 615.04,87.79 621.36,84.20 628.64,84.20 634.96,87.79 638.60,94.01" fill="#f00"/><path d="M625.10 124.95L641.10 152.45L609.10 152.45Z" fill="#0f0"/><path d="M609.10 177.80L641.10 177.80L625.10 205.80Z" fill="#00f"/></svg>
</body></html>
